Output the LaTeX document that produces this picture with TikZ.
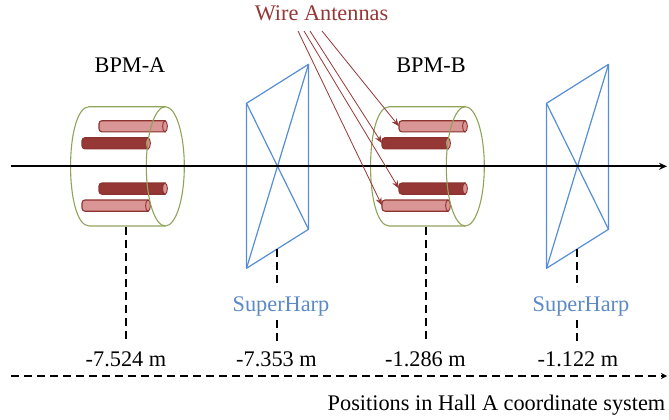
\documentclass[tikz,border=0pt]{standalone}
\usepackage{fontspec}
\setmainfont{Liberation Serif}
\usetikzlibrary{arrows.meta}
\definecolor{lightrod}{HTML}{D99694}
\definecolor{darkrod}{HTML}{953735}
\definecolor{rodline}{HTML}{8C3230}
\definecolor{cyl}{HTML}{8FA35A}
\definecolor{harp}{HTML}{558ED5}
\definecolor{suptext}{HTML}{5B8AC6}
\tikzset{
  x=1pt,y=-1pt,
  cylline/.style={draw=cyl,line width=1.1pt},
  harpline/.style={draw=harp,line width=1.2pt},
  posdash/.style={draw=black,line width=1.7pt,dash pattern=on 7.5pt off 5.5pt},
  lbl/.style={font=\fontsize{22.3}{24}\selectfont,inner sep=0pt,anchor=base},
  pointer/.style={draw=darkrod,line width=0.8pt,-{Stealth[length=8pt,width=6pt]}},
  lightfill/.style={fill=lightrod,draw=rodline,line width=1.1pt},
  darkfill/.style={fill=darkrod,draw=rodline,line width=1.1pt},
}
\newcommand{\rodshape}[4]{% x, y-center, style, name
  \path[#3] (#1+66,#2-5.6) [rounded corners=3pt] -- (#1,#2-5.6) -- (#1,#2+5.6) [sharp corners] -- (#1+66,#2+5.6) -- cycle;
  \path[draw=rodline,line width=0.9pt,fill=lightrod] (#1+66,#2) ellipse[x radius=2.4,y radius=5.6];
  \coordinate (#4) at (#1,#2);
}
\newcommand{\bpm}[2]{% x offset, prefix
  \begin{scope}[xshift=#1]
    \rodshape{99}{126.3}{lightfill}{#2a}
    \rodshape{82}{143.3}{darkfill}{#2b}
    \rodshape{99}{188.6}{darkfill}{#2c}
    \rodshape{82}{205.6}{lightfill}{#2d}
    \path[cylline] (165.3,106.7) -- (89.3,106.7)
      .. controls (64.3,106.7) and (64.3,226) .. (89.3,226) -- (165.3,226);
    \path[cylline] (165.3,166.35) ellipse[x radius=19,y radius=59.65];
    \coordinate (#2bot) at (126,227);
    \coordinate (#2end) at (126,342);
  \end{scope}
}
\newcommand{\harpframe}[2]{% x offset, prefix
  \begin{scope}[xshift=#1]
    \coordinate (#2tl) at (246.5,103.3);
    \coordinate (#2bl) at (246.5,268.3);
    \coordinate (#2tr) at (308.5,64.3);
    \coordinate (#2br) at (308.5,229.3);
    \coordinate (#2bot) at (277,249);
    \coordinate (#2mid) at (277,284);
    \coordinate (#2low) at (277,320);
    \coordinate (#2end) at (277,342);
    \path[harpline,line join=round] (#2tl) -- (#2tr) -- (#2br) -- (#2bl) -- cycle;
    \path[harpline] (#2tl) -- (#2br);
    \path[harpline] (#2bl) -- (#2tr);
  \end{scope}
}
\begin{document}
\begin{tikzpicture}
\useasboundingbox (0,0) rectangle (669,420);
\bpm{0pt}{A}
\bpm{300pt}{B}
\harpframe{0pt}{H}
\harpframe{300pt}{J}

\coordinate (axisL) at (11,166.3);
\coordinate (axisR) at (667,166.3);
\draw[black,line width=1.8pt,-{Stealth[length=8pt,width=7pt]}] (axisL) -- (axisR);

\node[lbl] (bpmA) at (130,73) {BPM-A};
\node[lbl] (bpmB) at (431,73) {BPM-B};
\node[lbl,text=darkrod] (wire) at (321.5,21) {Wire Antennas};
\node[lbl,text=suptext] (sh1) at (281,311) {SuperHarp};
\node[lbl,text=suptext] (sh2) at (581,311) {SuperHarp};
\node[lbl] (p1) at (126,366.5) {-7.524 m};
\node[lbl] (p2) at (276.5,366.5) {-7.353 m};
\node[lbl] (p3) at (425.5,366.5) {-1.286 m};
\node[lbl] (p4) at (578,366.5) {-1.122 m};
\node[lbl,anchor=base east] (cap) at (665.5,410) {Positions in Hall A coordinate system};

\draw[posdash] (Abot) -- (Aend);
\draw[posdash] (Bbot) -- (Bend);
\draw[posdash] (Hbot) -- (Hmid);
\draw[posdash] (Hlow) -- (Hend);
\draw[posdash] (Jbot) -- (Jmid);
\draw[posdash] (Jlow) -- (Jend);

\coordinate (dL) at (11,376);
\coordinate (dR) at (667,376);
\draw[black,line width=1.5pt,dash pattern=on 7.5pt off 5.5pt,-{Stealth[length=6pt,width=6pt]}] (dL) -- (dR);

\coordinate (w1) at (322,31);
\coordinate (w2) at (310,31);
\coordinate (w3) at (304,31);
\coordinate (w4) at (298,31);
\draw[pointer] (w1) -- (Ba);
\draw[pointer] (w2) -- (Bb);
\draw[pointer] (w3) -- (Bc);
\draw[pointer] (w4) -- (Bd);
\end{tikzpicture}
\end{document}
